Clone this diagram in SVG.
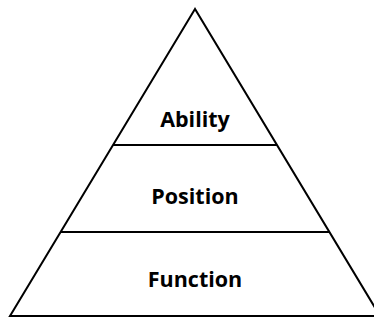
<svg xmlns="http://www.w3.org/2000/svg" width="374" height="320" viewBox="0 0 374 320">
<style>
.ln{fill:none;stroke:#000;stroke-width:2}
.lb{font-family:"Open Sans","Noto Sans",sans-serif;font-weight:bold;font-size:21.5px;fill:#000;text-anchor:middle}
</style>
<rect width="374" height="320" fill="#fff"/>
<g id="connectors">
<polygon class="ln" points="195,9 10,316 380,316"/>
<line class="ln" x1="113" y1="145" x2="277" y2="145"/>
<line class="ln" x1="60.5" y1="232" x2="329.5" y2="232"/>
</g>
<g id="ability"><text class="lb" x="195" y="127">Ability</text></g>
<g id="position"><text class="lb" x="195" y="204">Position</text></g>
<g id="function"><text class="lb" x="195" y="287">Function</text></g>
</svg>
